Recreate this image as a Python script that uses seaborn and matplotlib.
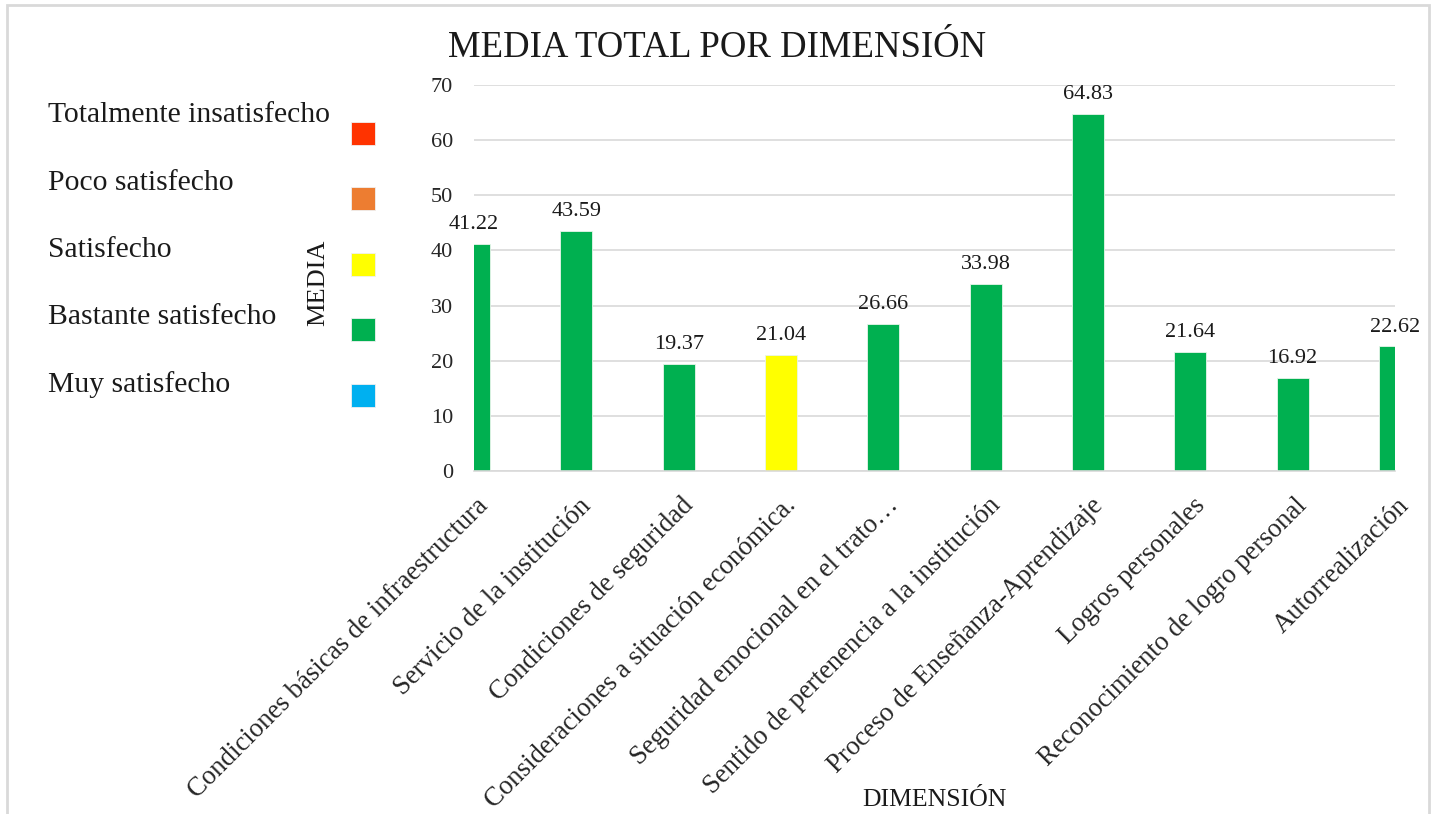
import matplotlib
matplotlib.use("Agg")
import matplotlib.pyplot as plt
import matplotlib.transforms as mtransforms
from matplotlib.patches import Rectangle
import seaborn as sns
import pandas as pd

# ---------------- data ----------------
dimensiones = [
    "Condiciones básicas de infraestructura",
    "Servicio de la institución",
    "Condiciones de seguridad",
    "Consideraciones a situación económica.",
    "Seguridad emocional en el trato…",
    "Sentido de pertenencia a la institución",
    "Proceso de Enseñanza-Aprendizaje",
    "Logros personales",
    "Reconocimiento de logro personal",
    "Autorrealización",
]
medias = [41.22, 43.59, 19.37, 21.04, 26.66, 33.98, 64.83, 21.64, 16.92, 22.62]
nivel = [
    "Bastante satisfecho", "Bastante satisfecho", "Bastante satisfecho",
    "Satisfecho", "Bastante satisfecho", "Bastante satisfecho",
    "Bastante satisfecho", "Bastante satisfecho", "Bastante satisfecho",
    "Bastante satisfecho",
]
niveles = ["Totalmente insatisfecho", "Poco satisfecho", "Satisfecho",
           "Bastante satisfecho", "Muy satisfecho"]
colores = ["#FF3300", "#ED7D31", "#FFFF00", "#00B050", "#00B0F0"]
y_ticks = [0, 10, 20, 30, 40, 50, 60, 70]

# ---------------- style ----------------
sns.set_style("white")
plt.rcParams["font.family"] = ["Liberation Serif", "DejaVu Serif"]
plt.rcParams["text.color"] = "#1a1a1a"

W, H = 1435, 814
fig = plt.figure(figsize=(W / 100, H / 100), dpi=100)
ax = fig.add_axes([474 / W, 1 - 471 / H, (1395 - 474) / W, (471 - 85) / H])

df = pd.DataFrame({"dim": dimensiones, "media": medias, "nivel": nivel})
palette = dict(zip(niveles, colores))
sns.barplot(data=df, x="dim", y="media", hue="nivel", palette=palette,
            order=dimensiones, dodge=False, width=0.31, legend=False,
            edgecolor="#e8f5ea", linewidth=0.6, ax=ax, saturation=1)

ax.set_xlim(0, len(dimensiones) - 1)
ax.set_ylim(0, 70)
ax.set_yticks(y_ticks)
ax.set_yticklabels([str(t) for t in y_ticks], fontsize=16)
ax.yaxis.grid(True, color="#D9D9D9", linewidth=1.2)
ax.set_axisbelow(True)
for s in ["left", "right", "top"]:
    ax.spines[s].set_visible(False)
ax.spines["bottom"].set_color("#D9D9D9")
ax.spines["bottom"].set_linewidth(1.2)
ax.tick_params(axis="y", length=0, pad=15)
ax.tick_params(axis="x", length=6, width=1.2, color="#D9D9D9", pad=10)

ax.set_xticks(range(len(dimensiones)))
ax.set_xticklabels(dimensiones, rotation=45, ha="right", va="top",
                   rotation_mode="anchor", fontsize=19.3)
off = mtransforms.ScaledTranslation(2 / 100, 0, fig.dpi_scale_trans)
for lab in ax.get_xticklabels():
    lab.set_transform(lab.get_transform() + off)

for cont in ax.containers:
    ax.bar_label(cont, fmt="%.2f", padding=7, fontsize=16)

ax.set_xlabel("")
ax.set_ylabel("")
fig.text(318 / W, 1 - 283 / H, "MEDIA", rotation=90, ha="center", va="center",
         fontsize=19)
fig.text(934 / W, 1 - 800 / H, "DIMENSIÓN", ha="center", va="center",
         fontsize=18.5)
fig.text(0.5, 1 - 48 / H, "MEDIA TOTAL POR DIMENSIÓN", ha="center",
         va="center", fontsize=26.5)

# legend (left side): labels and colour squares
for i, (nm, col) in enumerate(zip(niveles, colores)):
    ty = 115 + i * 67.5
    fig.text(48 / W, 1 - ty / H, nm, ha="left", va="center", fontsize=21.3)
    sy = 133 + i * 65.5
    fig.patches.append(Rectangle((351 / W, 1 - (sy + 11.5) / H), 24 / W, 23 / H,
                                 transform=fig.transFigure, facecolor=col,
                                 edgecolor="#f0f0f0", linewidth=0.6))

# outer frame
fig.patches.append(Rectangle((7 / W, -0.05), (1429 - 7) / W, 1.05 - 5 / H,
                             transform=fig.transFigure, fill=False,
                             edgecolor="#D9D9D9", linewidth=2))

fig.savefig("out.png", dpi=100)
